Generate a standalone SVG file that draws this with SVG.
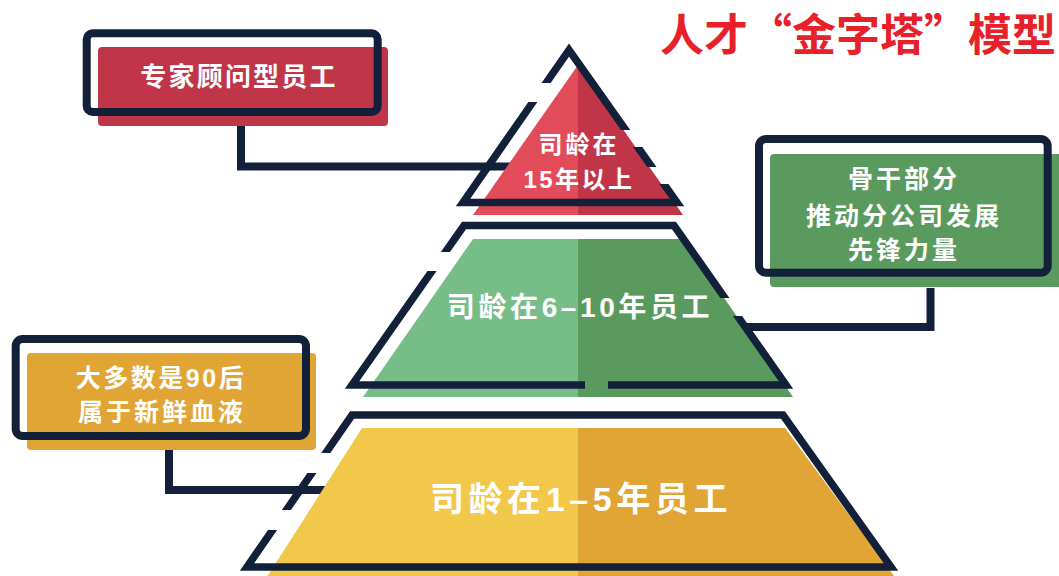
<svg xmlns="http://www.w3.org/2000/svg" width="1059" height="576" viewBox="0 0 1059 576">
<style>
.ol{fill:none;stroke:#13203A;stroke-width:7.5;stroke-linejoin:miter;stroke-miterlimit:10}
.cn{fill:none;stroke:#13203A;stroke-width:8;stroke-linejoin:miter;stroke-linecap:butt}
.bx{fill:none;stroke:#13203A;stroke-width:8}
.t{font-family:"Liberation Sans","Noto Sans CJK SC",sans-serif;font-weight:700;fill:#FFFFFF;text-anchor:middle}
.title{font-family:"Noto Sans CJK SC","Liberation Sans",sans-serif;font-weight:700;fill:#E8202A;font-size:44px}
</style>
<defs>
<mask id="mTop" maskUnits="userSpaceOnUse" x="0" y="0" width="1059" height="576">
<rect x="0" y="0" width="1059" height="576" fill="#fff"/>
<rect x="518" y="83" width="40" height="19" fill="#000"/>
<rect x="612" y="130" width="40" height="17" fill="#000"/>
<rect x="636" y="167" width="40" height="17" fill="#000"/>
</mask>
<mask id="mMid" maskUnits="userSpaceOnUse" x="0" y="0" width="1059" height="576">
<rect x="0" y="0" width="1059" height="576" fill="#fff"/>
<rect x="420" y="252" width="45" height="19" fill="#000"/>
<rect x="705" y="298" width="50" height="18" fill="#000"/>
<rect x="585" y="375" width="23" height="20" fill="#000"/>
</mask>
<mask id="mBot" maskUnits="userSpaceOnUse" x="0" y="0" width="1059" height="576">
<rect x="0" y="0" width="1059" height="576" fill="#fff"/>
<rect x="290" y="453" width="55" height="20" fill="#000"/>
<rect x="252" y="510" width="50" height="20" fill="#000"/>
</mask>
</defs>
<rect width="1059" height="576" fill="#FFFFFF"/>

<g id="title">
<text class="title" x="660 704 748 792 836 880 924 968 1012" y="51">人才“金字塔”模型</text>
</g>

<g id="connectors">
<path class="cn" d="M241,126 V166.5 H525"/>
<path class="cn" d="M930.5,288 V327 H713"/>
<path class="cn" d="M169,450 V490 H338"/>
</g>

<g id="tier-top">
<polygon points="578,65 473,215 578,215" fill="#E24C5A"/>
<polygon points="578,65 683,215 578,215" fill="#C13548"/>
<path class="ol" d="M569,50 L677,202.5 L463,202.5 Z" mask="url(#mTop)"/>
<text class="t" x="579" y="153" font-size="24" letter-spacing="3">司龄在</text>
<text class="t" x="579" y="188" font-size="24" letter-spacing="2.5">15年以上</text>
</g>

<g id="tier-mid">
<polygon points="473,239 578,239 578,397 363,397" fill="#77BD88"/>
<polygon points="578,239 683,239 793,397 578,397" fill="#5A9A5E"/>
<path class="ol" d="M464,225.5 L674,225.5 L786,385 L352,385 Z" mask="url(#mMid)"/>
<text class="t" x="580" y="317" font-size="28" letter-spacing="3.6">司龄在6–10年员工</text>
</g>

<g id="tier-bot">
<polygon points="362,428 578,428 578,580 265,580" fill="#F2C84B"/>
<polygon points="578,428 785,428 897,580 578,580" fill="#E0A534"/>
<path class="ol" d="M352,415 L783,415 L891,567 L247,567 Z" mask="url(#mBot)"/>
<text class="t" x="581" y="511" font-size="34" letter-spacing="4.6">司龄在1–5年员工</text>
</g>

<g id="box-expert">
<rect x="98" y="47" width="290" height="79" rx="4" fill="#C13548"/>
<rect class="bx" x="86.7" y="33.3" width="291" height="78.7" rx="6"/>
<text class="t" x="239" y="86" font-size="26" letter-spacing="2.2">专家顾问型员工</text>
</g>

<g id="box-backbone">
<rect x="770" y="154" width="295" height="133" rx="4" fill="#5A9A5E"/>
<rect class="bx" x="759" y="139" width="288.7" height="133.7" rx="7"/>
<text class="t" x="904" y="188" font-size="25" letter-spacing="3">骨干部分</text>
<text class="t" x="904" y="225" font-size="25" letter-spacing="3">推动分公司发展</text>
<text class="t" x="904" y="259" font-size="25" letter-spacing="3">先锋力量</text>
</g>

<g id="box-young">
<rect x="27" y="353" width="289" height="97" rx="4" fill="#E0A534"/>
<rect class="bx" x="15.7" y="339" width="290.3" height="97" rx="7"/>
<text class="t" x="161" y="387" font-size="25" letter-spacing="2.5">大多数是90后</text>
<text class="t" x="162" y="421" font-size="25" letter-spacing="3">属于新鲜血液</text>
</g>
</svg>
